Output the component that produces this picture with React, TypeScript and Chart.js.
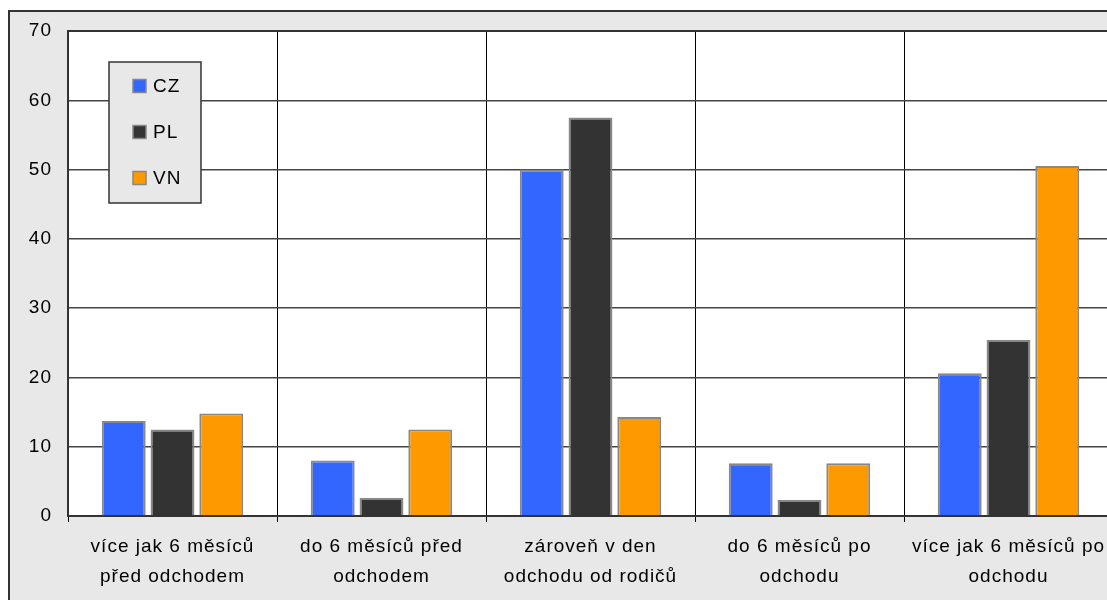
import React, { useEffect, useRef } from 'react';
import { Chart, registerables } from 'chart.js';

Chart.register(...registerables);

const categories: string[][] = [
  ['více jak 6 měsíců', 'před odchodem'],
  ['do 6 měsíců před', 'odchodem'],
  ['zároveň v den', 'odchodu od rodičů'],
  ['do 6 měsíců po', 'odchodu'],
  ['více jak 6 měsíců po', 'odchodu'],
];
const seriesNames = ['CZ', 'PL', 'VN'];
const czValues = [13.7, 8.0, 50.0, 7.6, 20.6];
const plValues = [12.5, 2.6, 57.5, 2.3, 25.4];
const vnValues = [14.8, 12.5, 14.3, 7.6, 50.5];
const seriesColors = ['#3366ff', '#333333', '#ff9900'];
const yMin = 0;
const yMax = 70;
const yStep = 10;

const FONT = '"Liberation Sans", Arial, Helvetica, sans-serif';

const framePlugin = {
  id: 'framePlugin',
  beforeUpdate(chart: any) {
    chart.ctx.letterSpacing = '1px';
  },
  beforeDraw(chart: any) {
    const { ctx, chartArea: a } = chart;
    ctx.letterSpacing = '1px';
    ctx.save();
    ctx.fillStyle = '#ffffff';
    ctx.fillRect(a.left, a.top, a.right - a.left, a.bottom - a.top);
    ctx.restore();
  },
  afterDraw(chart: any) {
    const { ctx, chartArea: a } = chart;
    ctx.save();
    ctx.strokeStyle = '#333';
    ctx.lineWidth = 2;
    ctx.beginPath();
    ctx.moveTo(a.left, a.top);
    ctx.lineTo(a.right, a.top);
    ctx.stroke();
    const bx = a.left + 41;
    const by = a.top + 31;
    const bw = 92;
    const bh = 141;
    ctx.fillStyle = '#e8e8e8';
    ctx.fillRect(bx, by, bw, bh);
    ctx.strokeStyle = '#333';
    ctx.lineWidth = 1.5;
    ctx.strokeRect(bx, by, bw, bh);
    ctx.font = `19px ${FONT}`;
    ctx.textBaseline = 'middle';
    ctx.textAlign = 'left';
    (ctx as any).letterSpacing = '1px';
    chart.data.datasets.forEach((ds: any, i: number) => {
      const cy = by + 24 + i * 46;
      ctx.fillStyle = ds.backgroundColor;
      ctx.fillRect(bx + 24, cy - 6.5, 13, 13);
      ctx.strokeStyle = '#888';
      ctx.lineWidth = 1.5;
      ctx.strokeRect(bx + 24, cy - 6.5, 13, 13);
      ctx.fillStyle = '#000';
      ctx.fillText(ds.label, bx + 44, cy + 1);
    });
    ctx.restore();
  },
};

export default function App() {
  const ref = useRef<HTMLCanvasElement>(null);

  useEffect(() => {
    if (!ref.current) return;
    const values = [czValues, plValues, vnValues];
    const chart = new Chart(ref.current, {
      type: 'bar',
      data: {
        labels: categories,
        datasets: seriesNames.map((name, i) => ({
          label: name,
          data: values[i],
          backgroundColor: seriesColors[i],
          borderColor: '#888888',
          borderWidth: 2,
          categoryPercentage: 0.7,
          barPercentage: 0.9,
        })),
      },
      options: {
        responsive: false,
        animation: false,
        devicePixelRatio: 1,
        layout: { padding: { top: 19, left: 0, right: 7, bottom: 0 } },
        plugins: {
          legend: { display: false },
          tooltip: { enabled: false },
        },
        scales: {
          x: {
            offset: true,
            grid: {
              display: true,
              offset: true,
              color: '#000',
              lineWidth: 1,
              drawTicks: true,
              tickLength: 6,
            },
            border: { display: true, color: '#333', width: 2 },
            ticks: {
              color: '#000',
              font: { family: FONT, size: 19, lineHeight: 30 / 19 },
              padding: 10,
              maxRotation: 0,
              minRotation: 0,
              autoSkip: false,
            },
            afterFit: (scale: any) => {
              scale.height = 92;
              scale.paddingLeft = 0;
              scale.paddingRight = 0;
            },
          },
          y: {
            min: yMin,
            max: yMax,
            ticks: {
              stepSize: yStep,
              color: '#000',
              font: { family: FONT, size: 19 },
              padding: 16,
            },
            grid: { color: '#444', lineWidth: 1.5, drawTicks: false },
            border: { display: true, color: '#333', width: 2 },
            afterFit: (scale: any) => {
              scale.width = 58;
              scale.paddingTop = 0;
              scale.paddingBottom = 0;
            },
          },
        },
      },
      plugins: [framePlugin],
    });
    return () => chart.destroy();
  }, []);

  return (
    <div
      style={{
        position: 'absolute',
        left: 0,
        top: 0,
        width: 1107,
        height: 600,
        overflow: 'hidden',
        background: '#fff',
      }}
    >
      <div
        style={{
          position: 'absolute',
          left: 8,
          top: 10,
          width: 1130,
          height: 630,
          border: '2px solid #333',
          background: '#e8e8e8',
        }}
      >
        <canvas
          ref={ref}
          width={1110}
          height={596}
          style={{ position: 'absolute', left: 0, top: 0, display: 'block' }}
        />
      </div>
    </div>
  );
}
